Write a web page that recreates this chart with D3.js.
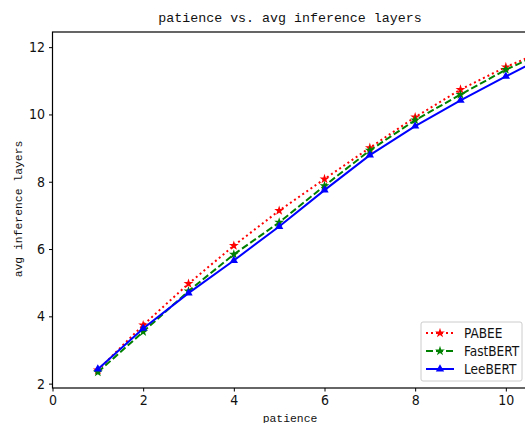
<!DOCTYPE html>
<html>
<head>
<meta charset="utf-8">
<script src="https://cdn.jsdelivr.net/npm/d3@7"></script>
<style>
  body { margin: 0; background: #fff; }
  svg { display: block; }
  .txt { font-family: "Liberation Mono", "DejaVu Sans Mono", monospace; fill: #111; }
  .narrow { font-family: "Liberation Sans Narrow", "DejaVu Sans Condensed", "Liberation Sans", sans-serif; fill: #111; }
  .tick text { font-family: "Liberation Sans Narrow", "DejaVu Sans Condensed", "Liberation Sans", sans-serif; font-size: 14px; fill: #111; }
</style>
</head>
<body>
<div id="chart"></div>
<script>
// data
var patience = [1, 2, 3, 4, 5, 6, 7, 8, 9, 10, 11];
var pabee    = [2.40, 3.74, 4.97, 6.10, 7.14, 8.08, 9.01, 9.92, 10.74, 11.41, 11.98];
var fastbert = [2.34, 3.54, 4.75, 5.84, 6.79, 7.88, 8.93, 9.83, 10.59, 11.33, 11.95];
var leebert  = [2.43, 3.64, 4.69, 5.66, 6.67, 7.75, 8.79, 9.65, 10.42, 11.13, 11.82];
var xTicks = [0, 2, 4, 6, 8, 10];
var yTicks = [2, 4, 6, 8, 10, 12];
var seriesNames = ["PABEE", "FastBERT", "LeeBERT"];

var W = 525, H = 423;
var mLeft = 52.5, mTop = 32, mRight = 528.5, mBottom = 388;

var x = d3.scaleLinear().domain([0, 10.5]).range([mLeft, mRight]);
var y = d3.scaleLinear().domain([1.87, 12.45]).range([mBottom, mTop]);

var svg = d3.select("#chart").append("svg")
    .attr("width", W)
    .attr("height", H);

var series = [
  { name: seriesNames[0], values: pabee,    color: "#ff0000", dash: "2,3", marker: "star" },
  { name: seriesNames[1], values: fastbert, color: "#008000", dash: "7,3", marker: "star" },
  { name: seriesNames[2], values: leebert,  color: "#0000ff", dash: null,  marker: "tri" }
];

function markerPath(type) {
  if (type == "star") return d3.symbol().type(d3.symbolStar).size(30)();
  return d3.symbol().type(d3.symbolTriangle).size(30)();
}

var line = d3.line()
    .x(function(d, i) { return x(patience[i]); })
    .y(function(d) { return y(d); });

var plot = svg.append("g");

series.forEach(function(s) {
  plot.append("path")
    .attr("d", line(s.values))
    .attr("fill", "none")
    .attr("stroke", s.color)
    .attr("stroke-width", 2)
    .attr("stroke-dasharray", s.dash);
  plot.selectAll(null)
    .data(s.values)
    .enter().append("path")
    .attr("d", markerPath(s.marker))
    .attr("transform", function(d, i) { return "translate(" + x(patience[i]) + "," + y(d) + ")"; })
    .attr("fill", s.color);
});

// axes
svg.append("g")
  .attr("transform", "translate(0," + mBottom + ")")
  .call(d3.axisBottom(x).tickValues(xTicks).tickSize(3.5).tickPadding(4).tickFormat(d3.format("d")))
  .call(function(g) { g.select(".domain").remove(); });

svg.append("g")
  .attr("transform", "translate(" + mLeft + ",0)")
  .call(d3.axisLeft(y).tickValues(yTicks).tickSize(3.5).tickPadding(4).tickFormat(d3.format("d")))
  .call(function(g) { g.select(".domain").remove(); });

svg.append("rect")
  .attr("x", mLeft).attr("y", mTop)
  .attr("width", mRight - mLeft).attr("height", mBottom - mTop)
  .attr("fill", "none").attr("stroke", "#000").attr("stroke-width", 1.2);

svg.append("text").attr("class", "txt")
  .attr("x", 290).attr("y", 22)
  .attr("text-anchor", "middle")
  .attr("font-size", 13.3)
  .text("patience vs. avg inference layers");

svg.append("text").attr("class", "txt")
  .attr("x", 290).attr("y", 422)
  .attr("text-anchor", "middle")
  .attr("font-size", 11.4)
  .text("patience");

svg.append("text").attr("class", "txt")
  .attr("transform", "translate(22," + 209 + ") rotate(-90)")
  .attr("text-anchor", "middle")
  .attr("font-size", 11.4)
  .text("avg inference layers");

// legend
var lg = svg.append("g").attr("transform", "translate(421,322)");
lg.append("rect")
  .attr("width", 101).attr("height", 59).attr("rx", 2)
  .attr("fill", "#fff").attr("fill-opacity", 0.8)
  .attr("stroke", "#ccc");
series.forEach(function(s, i) {
  var row = lg.append("g").attr("transform", "translate(0," + (11 + i * 18) + ")");
  row.append("line")
    .attr("x1", 5).attr("x2", 33).attr("y1", 0).attr("y2", 0)
    .attr("stroke", s.color).attr("stroke-width", 2)
    .attr("stroke-dasharray", s.dash);
  row.append("path")
    .attr("d", markerPath(s.marker))
    .attr("transform", "translate(19,0)")
    .attr("fill", s.color);
  row.append("text").attr("class", "narrow")
    .attr("x", 43).attr("y", 5)
    .attr("font-size", 13.5)
    .text(s.name);
});
</script>
</body>
</html>
